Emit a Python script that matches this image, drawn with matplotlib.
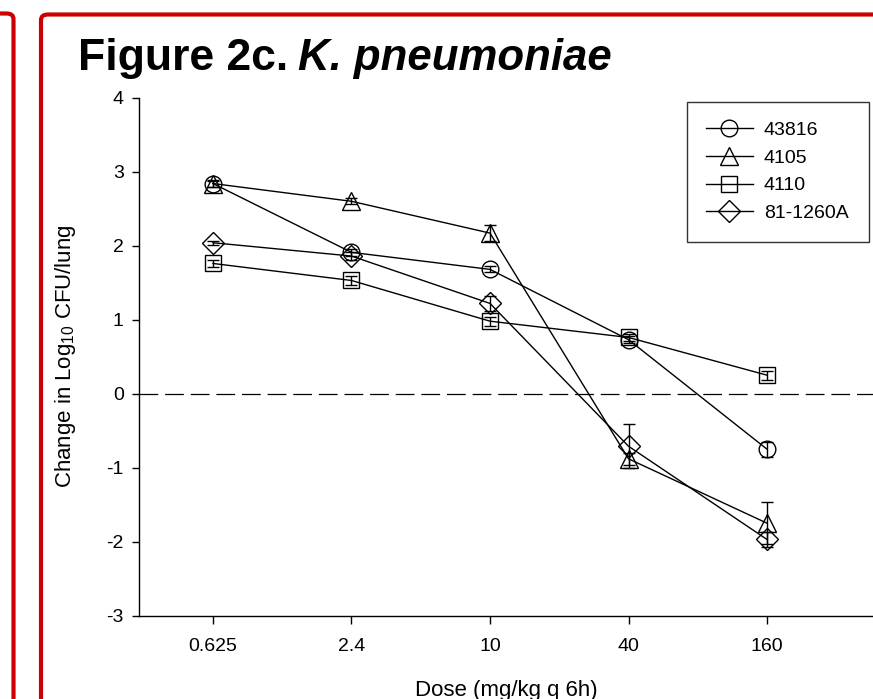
import numpy as np
import matplotlib

matplotlib.use("Agg")
import matplotlib.pyplot as plt
from matplotlib.patches import FancyBboxPatch

plt.rcParams["font.family"] = ["Liberation Sans", "DejaVu Sans"]
plt.rcParams["mathtext.fontset"] = "custom"
plt.rcParams["mathtext.rm"] = "Liberation Sans"
plt.rcParams["mathtext.default"] = "regular"

# dose groups (categorical x axis)
doses = ["0.625", "2.4", "10", "40", "160"]

# strains, markers and values
strains = ["43816", "4105", "4110", "81-1260A"]
markers = ["o", "^", "s", "D"]
vals_43816 = [2.84, 1.91, 1.68, 0.73, -0.75]
vals_4105 = [2.84, 2.60, 2.17, -0.88, -1.75]
vals_4110 = [1.76, 1.53, 0.98, 0.76, 0.25]
vals_81 = [2.04, 1.86, 1.22, -0.71, -1.97]
err_43816 = [0.05, 0.05, 0.04, 0.05, 0.10]
err_4105 = [0.04, 0.04, 0.11, 0.08, 0.28]
err_4110 = [0.05, 0.06, 0.06, 0.05, 0.06]
err_81 = [0.03, 0.05, 0.10, 0.30, 0.10]

yticks = [-3, -2, -1, 0, 1, 2, 3, 4]

RED = "#cc0000"
MS = {"o": 12, "^": 13, "s": 11.5, "D": 11}

fig = plt.figure(figsize=(8.73, 6.99), dpi=100)
fig.patch.set_facecolor("white")
W, H = 873.0, 699.0

# red slide frames behind the chart
for x0, y0, x1 in [(-300, 13.5, 13.5), (41, 14.5, 1200)]:
    fig.patches.append(FancyBboxPatch(
        (x0 / W, 1 - 1000 / H), (x1 - x0) / W, (1000 - y0) / H,
        boxstyle="round,pad=0,rounding_size=0.008", transform=fig.transFigure,
        fill=False, ec=RED, lw=3.0, zorder=0))

ax = fig.add_axes([139 / W, 1 - 615.7 / H, 1 - 139 / W, (615.7 - 97.7) / H])
ax.set_facecolor("none")

x = np.arange(len(doses))
series = [vals_43816, vals_4105, vals_4110, vals_81]
errs = [err_43816, err_4105, err_4110, err_81]
handles = []
for name, mk, v, e in zip(strains, markers, series, errs):
    ax.errorbar(x, v, yerr=e, fmt="none", ecolor="black", elinewidth=1.0,
                capsize=4.6, capthick=1.0, zorder=3)
    h, = ax.plot(x, v, color="black", lw=1.0, marker=mk, ms=MS[mk], mfc="none",
                 mec="black", mew=1.0, label=name, zorder=4)
    handles.append(h)

ax.axhline(0, color="black", lw=0.9, dashes=(15, 5.5), zorder=2)

ax.set_xlim(-0.534, 4.765)
ax.set_ylim(-3, 4)
ax.set_xticks(x)
ax.set_xticklabels(doses)
ax.set_yticks(yticks)
ax.set_yticklabels([str(t) for t in yticks])
for s in ("top", "right"):
    ax.spines[s].set_visible(False)
for s in ("left", "bottom"):
    ax.spines[s].set_linewidth(1.0)
ax.tick_params(axis="y", direction="out", length=5, width=1.0, labelsize=14, pad=6)
ax.tick_params(axis="x", direction="out", length=6, width=1.0, labelsize=14, pad=10)

ax.set_ylabel("Change in Log$_{10}$ CFU/lung", fontsize=16, va="center")
ax.yaxis.set_label_coords((66 - 139) / 734, 0.5)
ax.set_xlabel("Dose (mg/kg q 6h)", fontsize=16, va="baseline")
ax.xaxis.set_label_coords(0.5, (615.7 - 696) / 518)

leg = ax.legend(handles=handles, loc="upper left", mode="expand",
                bbox_to_anchor=(687 / W, 1 - 239 / H, (869 - 687) / W, (239 - 102) / H),
                bbox_transform=fig.transFigure, fontsize=14, frameon=True, fancybox=False,
                edgecolor="black", handlelength=2.37, borderpad=1.0, labelspacing=0.52,
                handletextpad=0.58, borderaxespad=0)
leg.get_frame().set_linewidth(1.0)

t1 = fig.text(78 / W, 1 - 70 / H, "Figure 2c.", fontsize=32, fontweight="bold",
              va="baseline", ha="left")
r = fig.canvas.get_renderer()
bb = t1.get_window_extent(r)
fig.text((bb.x1 + 10) / W, 1 - 70 / H, "K. pneumoniae", fontsize=31.5, fontweight="bold",
         fontstyle="italic", va="baseline", ha="left")

fig.savefig("out.png", dpi=100)
